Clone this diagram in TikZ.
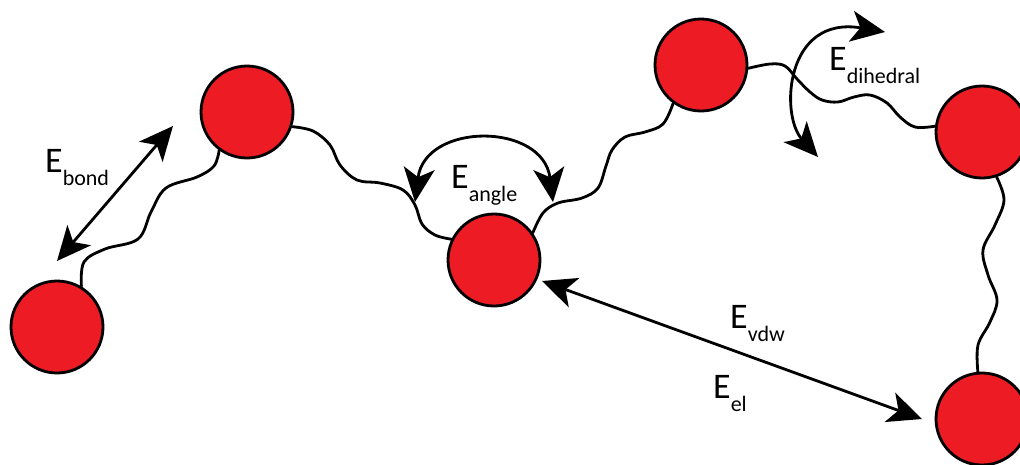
\documentclass[tikz,border=0pt]{standalone}
\usepackage{fontspec}
\setmainfont{Carlito}
\usetikzlibrary{arrows.meta}
\definecolor{atomred}{HTML}{ED1C24}
\newcommand{\Elab}[1]{E\raisebox{-13pt}{\fontsize{22}{22}\selectfont #1}}
\begin{document}
\begin{tikzpicture}[x=1pt,y=-1pt,
  atom/.style={circle,draw=black,line width=2.8pt,fill=atomred,minimum size=92pt,inner sep=0pt},
  bondline/.style={line width=2.8pt,line cap=round},
  ahead/.style={Stealth[length=34pt,width=31pt,inset=9pt]},
  earrow/.style={line width=2.8pt,{Stealth[length=34pt,width=31pt,inset=9pt]}-{Stealth[length=34pt,width=31pt,inset=9pt]}},
  lbl/.style={inner sep=0pt,anchor=base west,font=\fontsize{36}{36}\selectfont}]
\useasboundingbox (0,0) rectangle (1020,464);
\clip (0,0) rectangle (1020,464);
% atoms
\node[atom] (a1) at (57,327) {};
\node[atom] (a2) at (247,112) {};
\node[atom] (a3) at (494,260) {};
\node[atom] (a4) at (701,65) {};
\node[atom] (a5) at (982,132) {};
\node[atom] (a6) at (982,419) {};
% wavy bonds
\draw[bondline] plot[smooth,tension=0.6] coordinates {(a1.59) (84,262) (105,249) (138,239) (151,212) (166,188) (197,177) (214,166) (a2.234)};
\draw[bondline] plot[smooth,tension=0.6] coordinates {(a2.342) (313,131) (330,145) (340,165) (357,180) (380,183) (403,190) (415,205) (422,224) (435,235) (a3.154)};
\draw[bondline] plot[smooth,tension=0.6] coordinates {(a3.35) (543,213) (558,203) (582,198) (598,188) (606,166) (612,150) (625,137) (645,132) (663,124) (a4.234)};
\draw[bondline] plot[smooth,tension=0.6] coordinates {(a4.356) (770,64) (785,66) (797,79) (810,92) (822,100) (838,102) (854,97) (870,95) (887,103) (900,117) (915,127) (a5.173)};
\draw[bondline] plot[smooth,tension=0.6] coordinates {(a5.288) (1004,200) (995,225) (983,250) (988,275) (997,300) (990,322) (978,345) (a6.95)};
% energy arrows
\coordinate (b1) at (57,261);
\coordinate (b2) at (173,126);
\draw[earrow] (b1) -- (b2);
\coordinate (g1) at (415,202);
\coordinate (g2) at (553,202);
\draw[earrow] (g1) .. controls (425,122) and (543,122) .. (g2);
\coordinate (d1) at (818,157);
\coordinate (d2) at (885,32);
\draw[earrow] (d1) .. controls (780,115) and (785,15) .. (d2);
\coordinate (v1) at (542,281);
\coordinate (v2) at (922,419);
\draw[earrow] (v1) -- (v2);
% labels
\node[lbl] (lbond) at (45,172) {\Elab{bond}};
\node[lbl] (langle) at (451,188) {\Elab{angle}};
\node[lbl] (ldih) at (829,70) {\Elab{dihedral}};
\node[lbl] (lvdw) at (730,328) {\Elab{vdw}};
\node[lbl] (lel) at (713,398) {\Elab{el}};
\end{tikzpicture}
\end{document}
